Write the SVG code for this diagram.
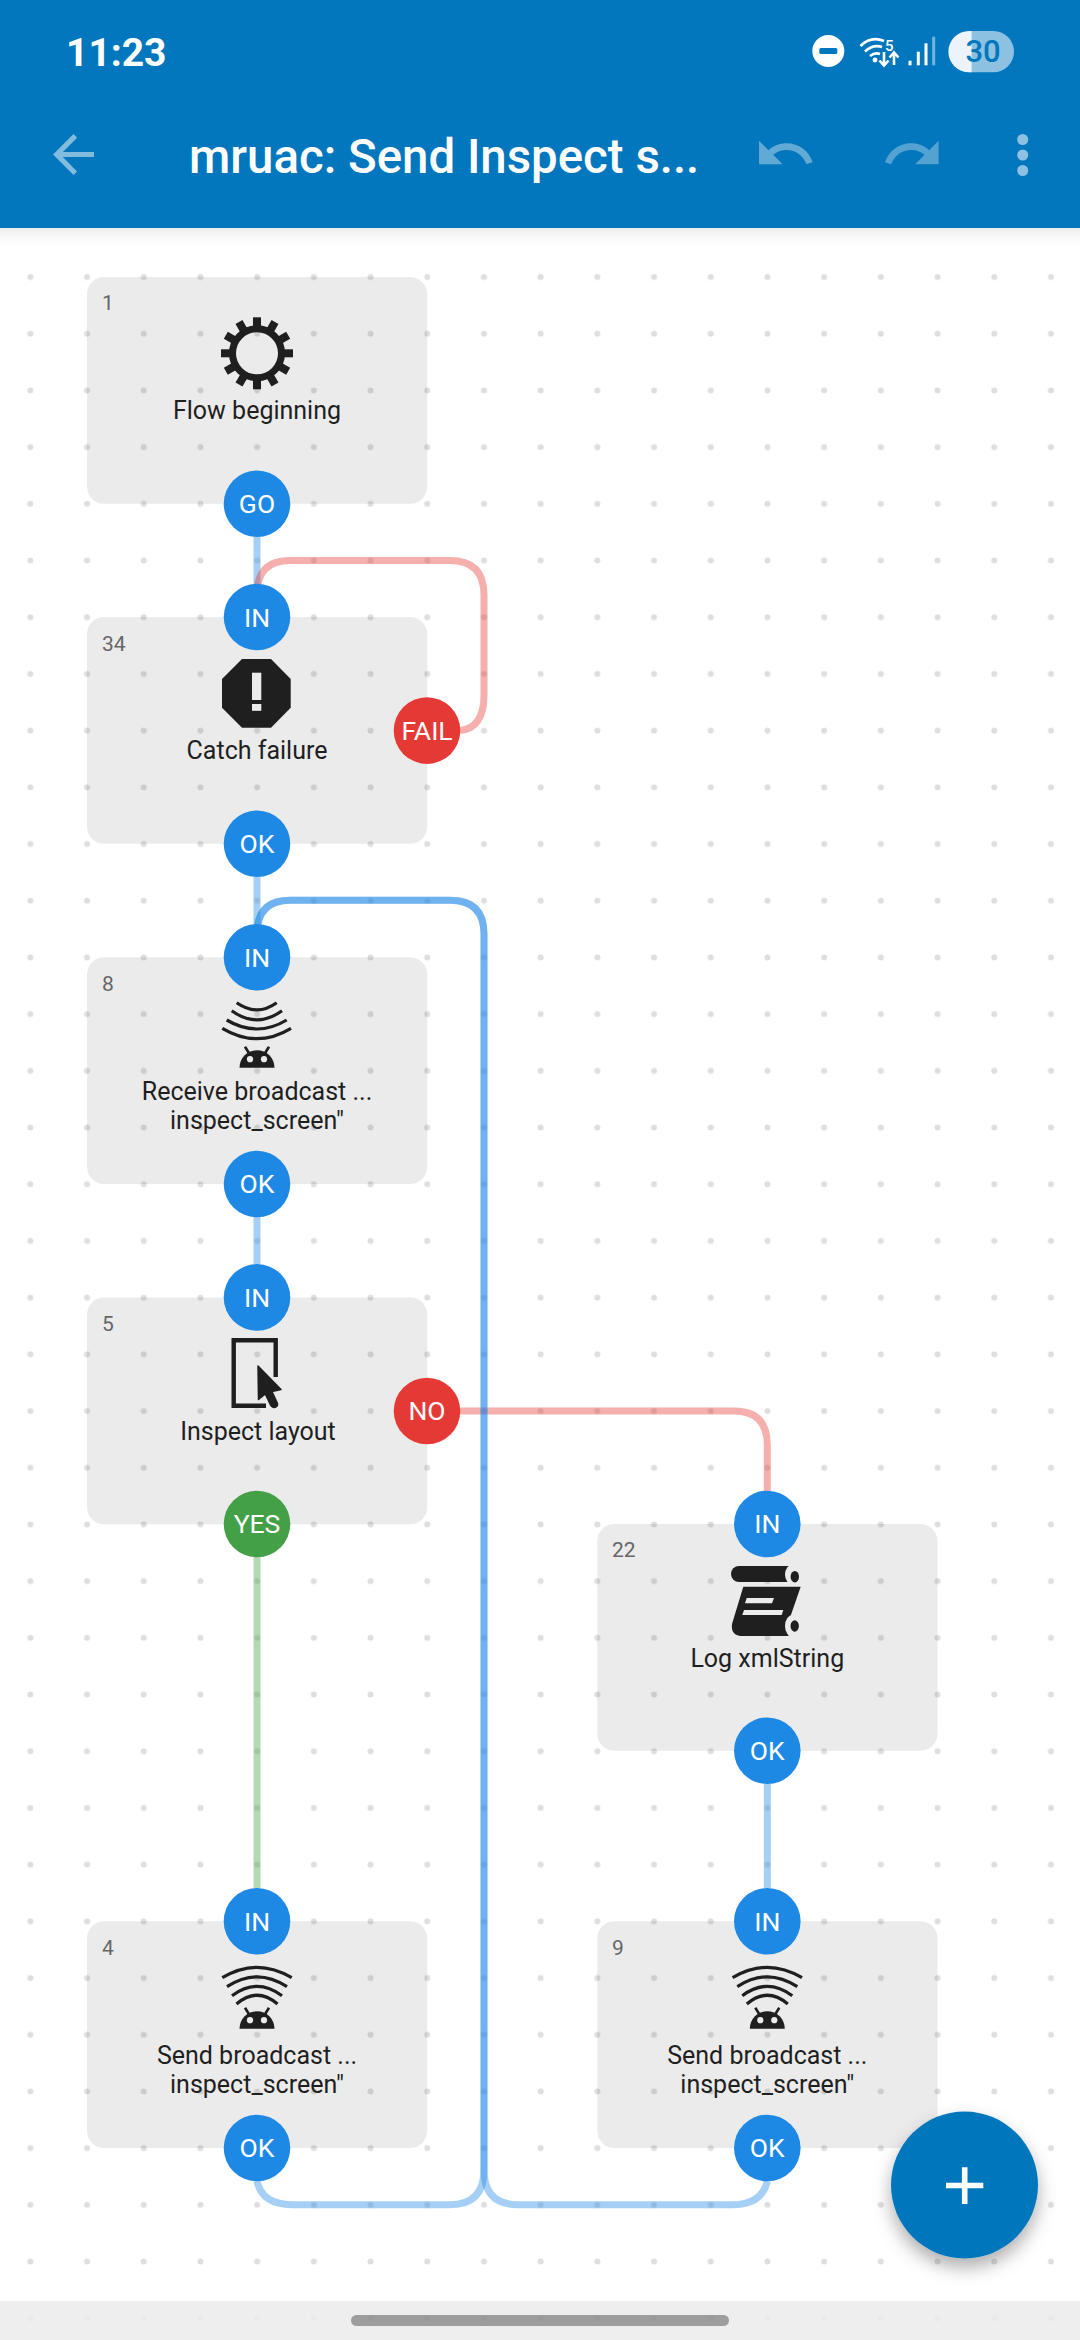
<svg xmlns="http://www.w3.org/2000/svg" xmlns:xlink="http://www.w3.org/1999/xlink" width="1080" height="2340" viewBox="0 0 1080 2340">
<style>
text{font-family:Roboto,"Liberation Sans",sans-serif}
.node{fill:#000;fill-opacity:.08}
.num{font-size:21px;fill:#666}
.lbl{font-size:25px;fill:#1f1f1f;text-anchor:middle}
.pt{font-size:26.5px;fill:#fff;text-anchor:middle}
.blue{fill:#1e88e5}.red{fill:#e53935}.green{fill:#43a047}
.con{fill:none;stroke-width:7;stroke-opacity:.4}
.cb{stroke:#1e88e5}.cr{stroke:#e53935}.cg{stroke:#43a047}
.ink{fill:#1f1f1f}
.arc{fill:none;stroke:#1f1f1f;stroke-width:3.2}
.bg{fill:#ebebeb}
</style>
<defs>
<pattern id="dots" patternUnits="userSpaceOnUse" x="2" y="192" width="56.7" height="56.7">
<circle cx="28.35" cy="28.35" r="3" fill="#000" fill-opacity=".13"/>
</pattern>
<linearGradient id="hs" x1="0" y1="0" x2="0" y2="1"><stop offset="0" stop-color="#ececec"/><stop offset="1" stop-color="#fff" stop-opacity="0"/></linearGradient>
<filter id="fs" x="-30%" y="-30%" width="160%" height="170%"><feDropShadow dx="0" dy="9" stdDeviation="9" flood-color="#000" flood-opacity=".32"/></filter>
<g id="droid">
<path class="ink" d="M-17.5 0A17.5 17.5 0 0 1 17.5 0Z"/>
<path d="M-12 -21L-7 -13M12 -21L7 -13" stroke="#1f1f1f" stroke-width="2.6" fill="none"/>
<circle class="bg" cx="-7" cy="-8.5" r="3.1"/><circle class="bg" cx="7" cy="-8.5" r="3.1"/>
</g>
<g id="send">
<path class="arc" d="M-34.7 10.7Q0 -10 34.7 10.7M-30 19.7Q0 0 30 19.7M-25 28.7Q0 10 25 28.7M-20.5 37Q0 19.5 20.5 37"/>
<use xlink:href="#droid" href="#droid" y="61.7"/>
</g>
</defs>
<rect width="1080" height="2340" fill="#fff"/>
<rect y="192" width="1080" height="2148" fill="url(#dots)"/>
<g id="connectors">
<path class="con cb" d="M257 537V584"/>
<path class="con cr" d="M460 730.6Q484 728 484 695V595Q484 560.5 450 560.5H290Q257 560.5 257 594V617"/>
<path class="con cb" d="M257 877V924"/>
<path class="con cb" d="M257 1217V1264"/>
<path class="con cr" d="M460 1411H734Q767.3 1411 767.3 1445V1491"/>
<path class="con cg" d="M257 1557V1888"/>
<path class="con cb" d="M767.3 1784V1888"/>
<path class="con cb" d="M257 2181Q262 2204.7 292 2204.7H450Q484 2204.7 484 2170V934Q484 900.3 450 900.3H290Q257 900.3 257 934V957"/>
<path class="con cb" d="M767.3 2181Q762 2204.7 732 2204.7H518Q484 2204.7 484 2170V934Q484 900.3 450 900.3H290Q257 900.3 257 934V957"/>
</g>
<g id="node-1">
<rect class="node" x="87" y="277" width="340.2" height="226.8" rx="17"/>
<text class="num" x="102" y="310">1</text>
<g transform="translate(257 353.3)">
<circle r="24.5" fill="none" stroke="#1f1f1f" stroke-width="7"/>
<g class="ink"><rect x="-4" y="-36" width="8" height="11"/><rect x="-4" y="-36" width="8" height="11" transform="rotate(30)"/><rect x="-4" y="-36" width="8" height="11" transform="rotate(60)"/><rect x="-4" y="-36" width="8" height="11" transform="rotate(90)"/><rect x="-4" y="-36" width="8" height="11" transform="rotate(120)"/><rect x="-4" y="-36" width="8" height="11" transform="rotate(150)"/><rect x="-4" y="-36" width="8" height="11" transform="rotate(180)"/><rect x="-4" y="-36" width="8" height="11" transform="rotate(210)"/><rect x="-4" y="-36" width="8" height="11" transform="rotate(240)"/><rect x="-4" y="-36" width="8" height="11" transform="rotate(270)"/><rect x="-4" y="-36" width="8" height="11" transform="rotate(300)"/><rect x="-4" y="-36" width="8" height="11" transform="rotate(330)"/></g>
</g>
<text class="lbl" x="257" y="418.5">Flow beginning</text>
<circle class="blue" cx="257" cy="503.7" r="33.3"/><text class="pt" x="257" y="513">GO</text>
</g>
<g id="node-34">
<rect class="node" x="87" y="617" width="340.2" height="226.8" rx="17"/>
<text class="num" x="102" y="650.5">34</text>
<path class="ink" d="M242 659H271L290.7 679V707.7L271 727.7H242L222 707.7V679Z"/>
<rect class="bg" x="252" y="672.7" width="9.3" height="27.3"/><rect class="bg" x="252" y="704" width="9.3" height="6.8"/>
<text class="lbl" x="257" y="759">Catch failure</text>
<circle class="blue" cx="257" cy="617" r="33.3"/><text class="pt" x="257" y="626.5">IN</text>
<circle class="blue" cx="257" cy="843.7" r="33.3"/><text class="pt" x="257" y="853">OK</text>
<circle class="red" cx="427" cy="730.6" r="33.3"/><text class="pt" x="427" y="740">FAIL</text>
</g>
<g id="node-8">
<rect class="node" x="87" y="957.3" width="340.2" height="226.8" rx="17"/>
<text class="num" x="102" y="990.5">8</text>
<path class="arc" d="M236.7 1002.7Q257 1017 276.7 1002.7M231.7 1010.7Q257 1029 282 1010.7M226.7 1020Q257 1038 286.7 1020M222.3 1028.3Q257 1049 291 1028.3"/>
<use xlink:href="#droid" href="#droid" x="257" y="1067.7"/>
<text class="lbl" x="257" y="1099.5">Receive broadcast ...</text>
<text class="lbl" x="257" y="1128.5">inspect_screen"</text>
<circle class="blue" cx="257" cy="957.3" r="33.3"/><text class="pt" x="257" y="966.8">IN</text>
<circle class="blue" cx="257" cy="1184" r="33.3"/><text class="pt" x="257" y="1193.3">OK</text>
</g>
<g id="node-5">
<rect class="node" x="87" y="1297.4" width="340.2" height="226.8" rx="17"/>
<text class="num" x="102" y="1330.5">5</text>
<path d="M275.7 1377V1340.3H233.7V1405.7H266" fill="none" stroke="#1f1f1f" stroke-width="4.4"/>
<path class="ink" stroke="#1f1f1f" stroke-width="1.5" stroke-linejoin="round" d="M258 1366L281 1389.5L272 1391.5L277.5 1403.5Q278 1407 274 1407.5Q272 1408 270.5 1405L265.3 1394L258.5 1399.5Z"/>
<text class="lbl" x="258" y="1440">Inspect layout</text>
<circle class="blue" cx="257" cy="1297.4" r="33.3"/><text class="pt" x="257" y="1306.8">IN</text>
<circle class="green" cx="257" cy="1524" r="33.3"/><text class="pt" x="257" y="1533.3">YES</text>
<circle class="red" cx="427" cy="1411" r="33.3"/><text class="pt" x="427" y="1420.3">NO</text>
</g>
<g id="node-22">
<rect class="node" x="597.3" y="1524" width="340.2" height="226.8" rx="17"/>
<text class="num" x="612" y="1557">22</text>
<path class="ink" d="M739 1566H792V1582H739A8 8 0 0 1 739 1566Z"/>
<path class="ink" d="M743.3 1586.7H800.7L788.5 1622V1636H743Q730.5 1636 732 1624Z"/>
<ellipse class="bg" cx="792.5" cy="1574.5" rx="7.5" ry="10"/><ellipse class="ink" cx="794.8" cy="1576.7" rx="4.2" ry="5.8"/>
<ellipse class="bg" cx="792.5" cy="1626" rx="7.5" ry="11"/><ellipse class="ink" cx="794.7" cy="1626" rx="4.2" ry="5.8"/>
<path class="bg" d="M746.7 1598H774L772 1603.3H745ZM744 1610H783.3L781.7 1615H742.3Z"/>
<text class="lbl" x="767.3" y="1667">Log xmlString</text>
<circle class="blue" cx="767.3" cy="1524" r="33.3"/><text class="pt" x="767.3" y="1533.3">IN</text>
<circle class="blue" cx="767.3" cy="1750.7" r="33.3"/><text class="pt" x="767.3" y="1760">OK</text>
</g>
<g id="node-4">
<rect class="node" x="87" y="1921.3" width="340.2" height="226.8" rx="17"/>
<text class="num" x="102" y="1954.5">4</text>
<use xlink:href="#send" href="#send" x="257" y="1967"/>
<text class="lbl" x="257" y="2063.5">Send broadcast ...</text>
<text class="lbl" x="257" y="2092.5">inspect_screen"</text>
<circle class="blue" cx="257" cy="1921.3" r="33.3"/><text class="pt" x="257" y="1930.8">IN</text>
<circle class="blue" cx="257" cy="2148" r="33.3"/><text class="pt" x="257" y="2157.3">OK</text>
</g>
<g id="node-9">
<rect class="node" x="597.3" y="1921.3" width="340.2" height="226.8" rx="17"/>
<text class="num" x="612" y="1954.5">9</text>
<use xlink:href="#send" href="#send" x="767.3" y="1967"/>
<text class="lbl" x="767.3" y="2063.5">Send broadcast ...</text>
<text class="lbl" x="767.3" y="2092.5">inspect_screen"</text>
<circle class="blue" cx="767.3" cy="1921.3" r="33.3"/><text class="pt" x="767.3" y="1930.8">IN</text>
<circle class="blue" cx="767.3" cy="2148" r="33.3"/><text class="pt" x="767.3" y="2157.3">OK</text>
</g>
<g id="nav-bar">
<rect y="2301" width="1080" height="39" fill="#ebebeb" fill-opacity=".85"/>
<rect x="351" y="2315" width="378" height="11" rx="5.5" fill="#000" fill-opacity=".34"/>
</g>
<g id="fab">
<circle cx="964.5" cy="2185" r="73.5" fill="#0277bd" filter="url(#fs)"/>
<path d="M946 2185.5H983.3M964.7 2167.3V2204" stroke="#fff" stroke-width="5.6"/>
</g>
<g id="app-bar">
<rect y="228" width="1080" height="22" fill="url(#hs)"/>
<rect width="1080" height="228" fill="#0277bd"/>
<text x="66" y="66" font-size="39" font-weight="700" fill="#fff">11:23</text>
<circle cx="828.3" cy="51" r="16" fill="#fff"/><rect x="819.3" y="48" width="18" height="6" rx="1.5" fill="#0277bd"/>
<g fill="none" stroke="#fff" stroke-width="2.6">
<path d="M860.5 46Q871 35.5 884 41M865 51.5Q873 44 882 47M870 56Q875 52 880 54"/>
<path d="M884 52V65M879.5 60.5L884 65.5L888.5 60.5M894 65V53M889.5 57.5L894 52.5L898.5 57.5"/>
</g>
<circle cx="875" cy="60" r="2.4" fill="#fff"/>
<text x="885" y="50.5" font-size="15" font-weight="500" fill="#fff">5</text>
<g fill="#fff"><rect x="908.5" y="60.7" width="3" height="4.6"/><rect x="916.8" y="51.7" width="3" height="13.6"/><rect x="924.5" y="43.3" width="3" height="22"/><rect x="932.2" y="36.7" width="3" height="28.6" fill-opacity=".45"/></g>
<rect x="951" y="31" width="63" height="41.3" rx="20.6" fill="#fff" fill-opacity=".55"/>
<path d="M969 31H971.6V72.3H969A20.65 20.65 0 0 1 969 31Z" fill="#ecf4fa"/>
<text x="983" y="62" font-size="31" font-weight="500" fill="#0277bd" text-anchor="middle">30</text>
<path d="M20 11H7.83l5.59-5.59L12 4l-8 8 8 8 1.41-1.41L7.83 13H20v-2z" transform="translate(42.8 123.8) scale(2.56)" fill="#fff" fill-opacity=".5"/>
<text x="189" y="172.5" font-size="47.4" font-weight="500" fill="#fff">mruac: Send Inspect s...</text>
<path d="M12.5 8c-2.65 0-5.05.99-6.9 2.6L2 7v9h9l-3.62-3.62c1.39-1.16 3.16-1.88 5.12-1.88 3.54 0 6.55 2.31 7.6 5.5l2.37-.78C21.08 11.03 17.15 8 12.5 8z" transform="translate(753.8 122.4) scale(2.62)" fill="#fff" fill-opacity=".38"/>
<path d="M18.4 10.6C16.55 8.99 14.15 8 11.5 8c-4.65 0-8.58 3.03-9.96 7.22L3.9 16c1.05-3.19 4.05-5.5 7.6-5.5 1.95 0 3.73.72 5.12 1.88L13 16h9V7l-3.6 3.6z" transform="translate(881 122.4) scale(2.62)" fill="#fff" fill-opacity=".32"/>
<g fill="#fff" fill-opacity=".55"><circle cx="1022.7" cy="139.5" r="5.5"/><circle cx="1022.7" cy="155" r="5.5"/><circle cx="1022.7" cy="170.5" r="5.5"/></g>
</g>
</svg>
